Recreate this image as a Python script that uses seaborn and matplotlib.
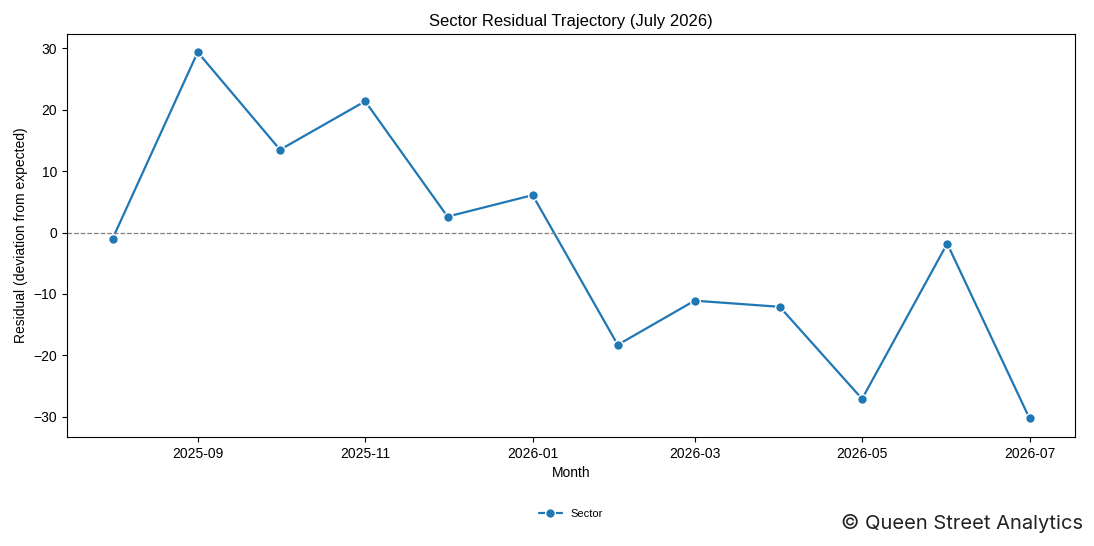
import pandas as pd
import matplotlib.pyplot as plt
import seaborn as sns

months = ["2025-08", "2025-09", "2025-10", "2025-11", "2025-12", "2026-01",
          "2026-02", "2026-03", "2026-04", "2026-05", "2026-06", "2026-07"]
residuals = [-1.0, 29.4, 13.5, 21.4, 2.6, 6.1, -18.3, -11.1, -12.1, -27.1, -1.8, -30.3]
series_name = "Sector"


def main():
    sns.set_style("ticks", {
        "text.color": "black", "axes.labelcolor": "black",
        "xtick.color": "black", "ytick.color": "black",
        "axes.edgecolor": "black",
    })
    plt.rcParams["font.family"] = ["Liberation Sans", "DejaVu Sans"]

    df = pd.DataFrame({
        "month": pd.to_datetime(months),
        "residual": residuals,
        "series": series_name,
    })

    fig, ax = plt.subplots(figsize=(10.94, 5.46), dpi=100)
    sns.lineplot(data=df, x="month", y="residual", hue="series", marker="o",
                 palette=["#1f77b4"], linewidth=1.6, markersize=7,
                 markeredgecolor="white", markeredgewidth=1, ax=ax)
    ax.axhline(0, color="gray", linestyle="--", linewidth=0.9)

    ax.set_title("Sector Residual Trajectory (July 2026)", fontsize=12)
    ax.set_xlabel("Month", fontsize=10)
    ax.set_ylabel("Residual (deviation from expected)", fontsize=10)
    ax.tick_params(labelsize=10)

    ax.legend(loc="upper center", bbox_to_anchor=(0.5, -0.155), ncol=1,
              frameon=False, fontsize=8)

    fig.text(0.99, 0.023, "\u00a9 Queen Street Analytics", ha="right", va="bottom",
             fontsize=14.5, family=["Inter", "DejaVu Sans"], color="#222222")

    plt.subplots_adjust(left=0.061, right=0.983, top=0.938, bottom=0.2)
    plt.savefig("out.png", dpi=100)


if __name__ == "__main__":
    main()
